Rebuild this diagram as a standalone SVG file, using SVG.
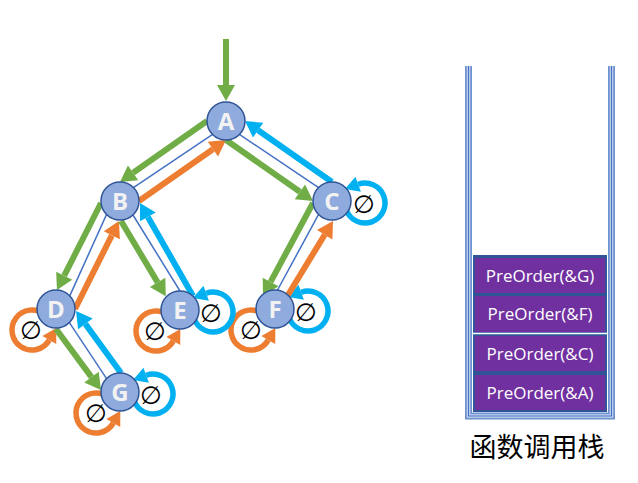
<svg xmlns="http://www.w3.org/2000/svg" width="638" height="483" viewBox="0 0 638 483">
<style>
.g{stroke:#70AD47;stroke-width:6;fill:none;marker-end:url(#hg)}
.o{stroke:#ED7D31;stroke-width:6;fill:none;marker-end:url(#ho)}
.b{stroke:#00B0F0;stroke-width:6;fill:none;marker-end:url(#hb)}
.e{stroke:#4472C4;stroke-width:1.5;fill:none}
.lo{stroke:#ED7D31;stroke-width:5.5;fill:none;marker-end:url(#lo)}
.lb{stroke:#00B0F0;stroke-width:5.5;fill:none;marker-end:url(#lb)}
.nc{fill:#8FAADC;stroke:#2F5597;stroke-width:1.5}
.nt{font-family:"Open Sans","Noto Sans",sans-serif;font-weight:bold;font-size:24px;fill:#F2F2F2;text-anchor:middle}
.nul{font-family:"DejaVu Sans",sans-serif;font-size:25px;fill:#000;text-anchor:middle}
.st{fill:#7030A0}
.stt{font-family:"Open Sans","Noto Sans",sans-serif;font-size:17px;fill:#FFFFFF;text-anchor:middle}
</style>
<defs>
<marker id="hg" markerUnits="userSpaceOnUse" orient="auto" refX="0" refY="0" markerWidth="20" markerHeight="20" overflow="visible"><path d="M0,-9 L16,0 L0,9 z" fill="#70AD47"/></marker>
<marker id="ho" markerUnits="userSpaceOnUse" orient="auto" refX="0" refY="0" markerWidth="20" markerHeight="20" overflow="visible"><path d="M0,-9 L16,0 L0,9 z" fill="#ED7D31"/></marker>
<marker id="hb" markerUnits="userSpaceOnUse" orient="auto" refX="0" refY="0" markerWidth="20" markerHeight="20" overflow="visible"><path d="M0,-9 L16,0 L0,9 z" fill="#00B0F0"/></marker>
<marker id="lo" markerUnits="userSpaceOnUse" orient="auto" refX="0" refY="0" markerWidth="20" markerHeight="20" overflow="visible"><path d="M0,-8 L14,0 L0,8 z" fill="#ED7D31"/></marker>
<marker id="lb" markerUnits="userSpaceOnUse" orient="auto" refX="0" refY="0" markerWidth="20" markerHeight="20" overflow="visible"><path d="M0,-8 L14,0 L0,8 z" fill="#00B0F0"/></marker>
</defs>
<rect width="638" height="483" fill="#FFFFFF"/>
<g id="connectors">
<path class="lo" d="M44.86,314.68 A20,20 0 1 0 49.32,340"/>
<path class="lo" d="M168.86,315.68 A20,20 0 1 0 173.32,341"/>
<path class="lo" d="M263.86,314.68 A20,20 0 1 0 268.32,340"/>
<path class="lo" d="M108.86,397.68 A20,20 0 1 0 113.32,423"/>
<path class="lb" d="M346.21,209.84 A20,20 0 1 0 358.16,184.21"/>
<path class="lb" d="M194.21,318.84 A20,20 0 1 0 206.16,293.21"/>
<path class="lb" d="M289.21,317.84 A20,20 0 1 0 301.16,292.21"/>
<path class="lb" d="M134.21,400.84 A20,20 0 1 0 146.16,375.21"/>
<line class="e" x1="212.6" y1="134.4" x2="133.4" y2="187.6"/>
<line class="e" x1="239.4" y1="134.4" x2="318.6" y2="187.6"/>
<line class="e" x1="106.6" y1="214.4" x2="69.4" y2="296.6"/>
<line class="e" x1="133" y1="215" x2="180" y2="291"/>
<line class="e" x1="318.6" y1="214.4" x2="277" y2="291"/>
<line class="e" x1="69.4" y1="322.6" x2="106.6" y2="378.6"/>
<line class="g" x1="226" y1="39" x2="226" y2="85"/>
<line class="g" x1="207" y1="121" x2="133.1" y2="172.8"/>
<line class="o" x1="139" y1="201" x2="212.9" y2="149.2"/>
<line class="g" x1="226" y1="140" x2="299.9" y2="191.8"/>
<line class="b" x1="332" y1="182" x2="258.1" y2="130.2"/>
<line class="g" x1="101" y1="203" x2="64.2" y2="275.7"/>
<line class="o" x1="75" y1="309" x2="111.8" y2="235.3"/>
<line class="g" x1="121" y1="221" x2="157.6" y2="282.4"/>
<line class="b" x1="193" y1="296" x2="147.9" y2="216.9"/>
<line class="g" x1="313" y1="203" x2="270.6" y2="281.9"/>
<line class="o" x1="288" y1="295" x2="324.7" y2="234.7"/>
<line class="g" x1="56" y1="329" x2="91.5" y2="377.1"/>
<line class="b" x1="121" y1="373" x2="85.4" y2="323.9"/>
</g>
<g id="node-A"><circle class="nc" cx="226" cy="121" r="19"/><text class="nt" x="226" y="129.5">A</text></g>
<g id="node-B"><circle class="nc" cx="120" cy="201" r="19"/><text class="nt" x="120" y="209.5">B</text></g>
<g id="node-C"><circle class="nc" cx="332" cy="201" r="19"/><text class="nt" x="332" y="209.5">C</text><text class="nul" x="364" y="213">∅</text></g>
<g id="node-D"><circle class="nc" cx="56" cy="309" r="19"/><text class="nt" x="56" y="317.5">D</text><text class="nul" x="31" y="339">∅</text></g>
<g id="node-E"><circle class="nc" cx="180" cy="310" r="19"/><text class="nt" x="180" y="318.5">E</text><text class="nul" x="155" y="340">∅</text><text class="nul" x="211" y="322">∅</text></g>
<g id="node-F"><circle class="nc" cx="275" cy="309" r="19"/><text class="nt" x="275" y="317.5">F</text><text class="nul" x="251" y="339">∅</text><text class="nul" x="306" y="321">∅</text></g>
<g id="node-G"><circle class="nc" cx="120" cy="392" r="19"/><text class="nt" x="120" y="400.5">G</text><text class="nul" x="96" y="422">∅</text><text class="nul" x="151" y="404">∅</text></g>
<g id="stack">
<path d="M468.5,66 V416 H611.5 V66" fill="none" stroke="#6E91D0" stroke-width="7"/>
<path d="M468.5,66 V416 H611.5 V66" fill="none" stroke="#C9D6EE" stroke-width="3.5"/>
<path d="M468.5,66 V416 H611.5 V66" fill="none" stroke="#4472C4" stroke-width="1.2"/>
<rect x="473" y="255" width="134" height="157" fill="#2F5597"/>
<rect class="st" x="475" y="258" width="130" height="35"/>
<rect class="st" x="475" y="296" width="130" height="36"/>
<line x1="473" y1="333.5" x2="607" y2="333.5" stroke="#FFFFFF" stroke-width="1.5"/>
<rect class="st" x="475" y="336" width="130" height="35"/>
<rect class="st" x="475" y="375" width="130" height="35"/>
<text class="stt" x="540" y="281.5">PreOrder(&amp;G)</text>
<text class="stt" x="540" y="320">PreOrder(&amp;F)</text>
<text class="stt" x="540" y="359.5">PreOrder(&amp;C)</text>
<text class="stt" x="540" y="398.5">PreOrder(&amp;A)</text>
</g>
<text x="537" y="457" font-family="'Noto Sans CJK SC',sans-serif" font-size="27" fill="#000" text-anchor="middle">函数调用栈</text>
</svg>
